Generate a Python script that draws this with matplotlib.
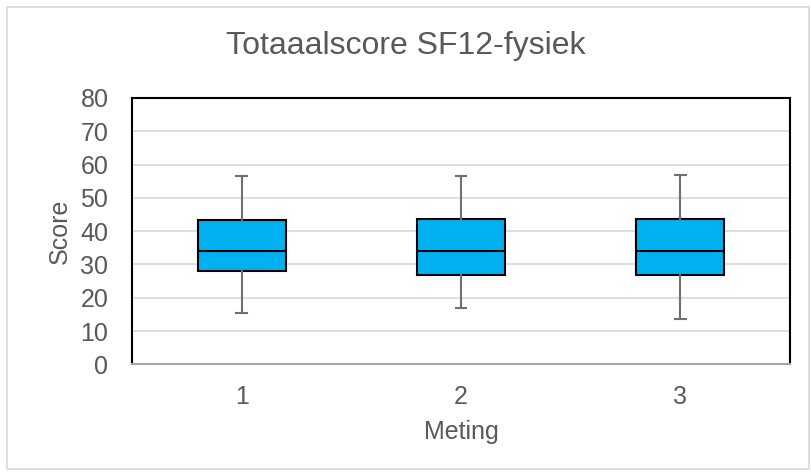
import matplotlib
matplotlib.use("Agg")
import matplotlib.pyplot as plt
from matplotlib.patches import Rectangle

plt.rcParams['font.family'] = ['Liberation Sans', 'DejaVu Sans']

metingen = ["1", "2", "3"]
whisker_low = [15.5, 16.8, 13.5]
q1 = [27.9, 26.9, 26.8]
median = [34.0, 34.1, 34.0]
q3 = [43.4, 43.5, 43.8]
whisker_high = [56.7, 56.5, 56.9]

title = "Totaaalscore SF12-fysiek"
xlabel = "Meting"
ylabel = "Score"
yticks = [0, 10, 20, 30, 40, 50, 60, 70, 80]

text_color = "#595959"

stats = []
for i in range(len(metingen)):
    stats.append({
        "label": metingen[i],
        "whislo": whisker_low[i],
        "q1": q1[i],
        "med": median[i],
        "q3": q3[i],
        "whishi": whisker_high[i],
        "fliers": [],
    })

fig = plt.figure(figsize=(8.11, 4.76), dpi=100)
# outer chart border
fig.patches.append(Rectangle((7 / 811, 7 / 476), 802 / 811, 462 / 476,
                             transform=fig.transFigure, fill=False,
                             edgecolor="#d9d9d9", linewidth=1.2))

ax = fig.add_axes([132 / 811, 111.7 / 476, 658 / 811, 266.3 / 476])

ax.bxp(stats, positions=[1, 2, 3], widths=0.4, patch_artist=True,
       showfliers=False, capwidths=0.05,
       boxprops=dict(facecolor="#00B0F0", edgecolor="black", linewidth=1.5),
       medianprops=dict(color="black", linewidth=1.5),
       whiskerprops=dict(color="#707070", linewidth=1.5),
       capprops=dict(color="#707070", linewidth=1.5))

ax.set_xlim(0.5, 3.5)
ax.set_ylim(0, 80)
ax.set_yticks(yticks)
ax.yaxis.grid(True, color="#d9d9d9", linewidth=1.2)
ax.set_axisbelow(True)
ax.tick_params(axis="both", length=0, labelsize=18, labelcolor=text_color)
ax.tick_params(axis="y", pad=17)
ax.tick_params(axis="x", pad=15)

for side in ["left", "top", "right"]:
    ax.spines[side].set_color("black")
    ax.spines[side].set_linewidth(1.5)
ax.spines["bottom"].set_color("#a6a6a6")
ax.spines["bottom"].set_linewidth(1.5)

ax.set_xlabel(xlabel, fontsize=18, color=text_color, labelpad=8)
ax.set_ylabel(ylabel, fontsize=18, color=text_color, labelpad=6)
fig.text(0.5, 1 - 46 / 476, title, ha="center", va="center",
         fontsize=23, color=text_color)

fig.savefig("out.png", dpi=100)
